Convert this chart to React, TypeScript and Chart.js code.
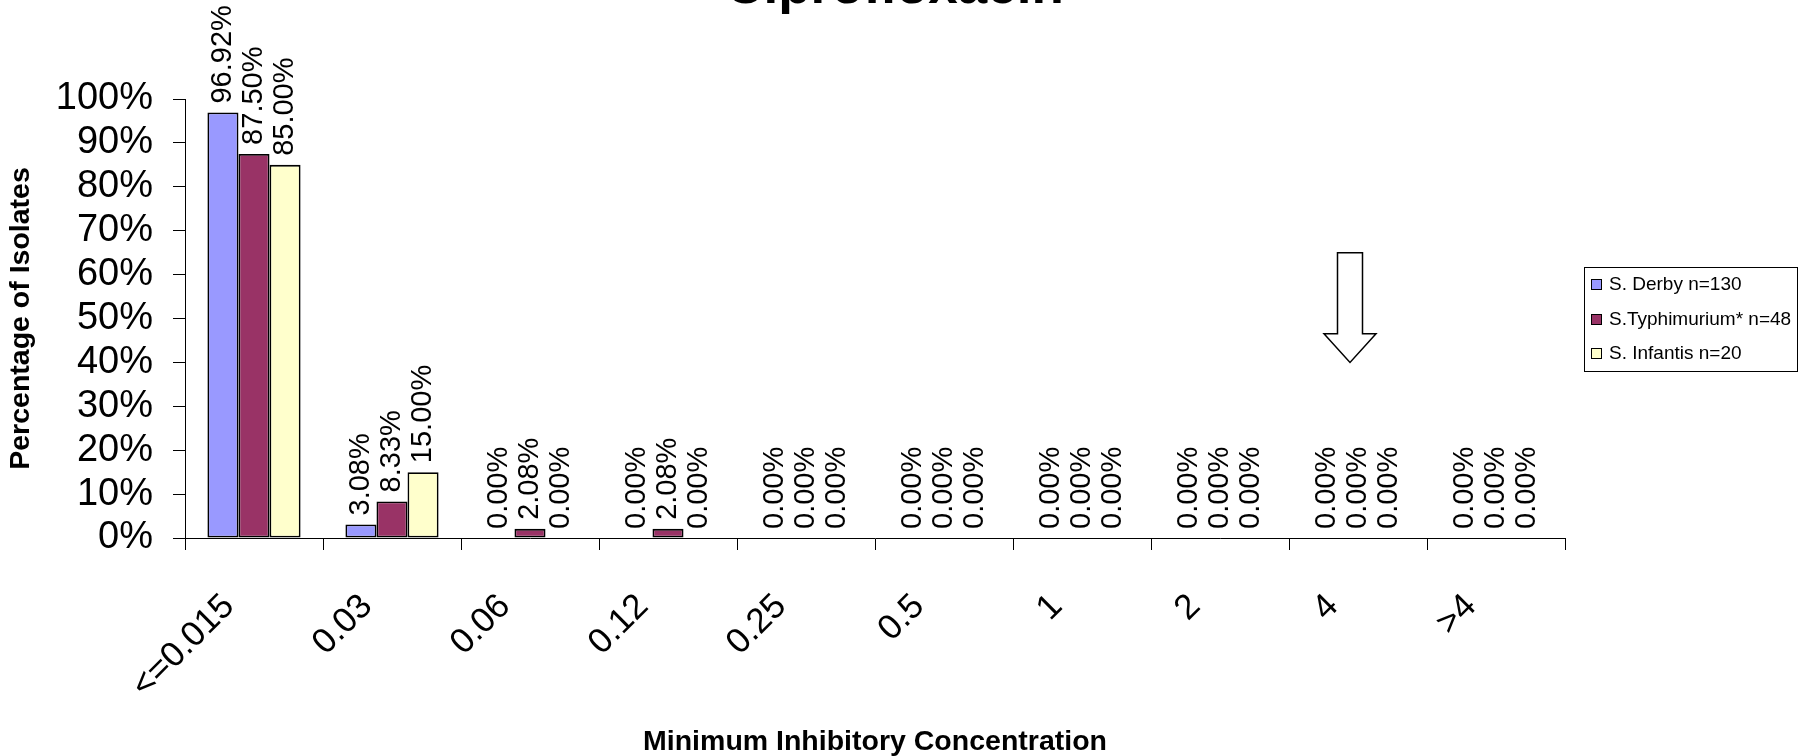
import React, { useEffect, useRef } from 'react';
import { Chart, registerables } from 'chart.js';

Chart.register(...registerables);

const FONT = "Arial, 'Liberation Sans', Helvetica, sans-serif";

const TITLE = 'Ciprofloxacin';
const X_TITLE = 'Minimum Inhibitory Concentration';
const Y_TITLE = 'Percentage of Isolates';

const CATEGORIES = ['<=0.015', '0.03', '0.06', '0.12', '0.25', '0.5', '1', '2', '4', '>4'];
const SERIES_LABELS = ['S. Derby n=130', 'S.Typhimurium* n=48', 'S. Infantis n=20'];
const DERBY = [96.92, 3.08, 0, 0, 0, 0, 0, 0, 0, 0];
const TYPHIMURIUM = [87.5, 8.33, 2.08, 2.08, 0, 0, 0, 0, 0, 0];
const INFANTIS = [85.0, 15.0, 0, 0, 0, 0, 0, 0, 0, 0];
const SERIES_COLORS = ['#9999FF', '#993366', '#FFFFCC'];

const Y_MIN = 0;
const Y_MAX = 100;
const Y_STEP = 10;

// breakpoint arrow (category + percentage values)
const ARROW_CATEGORY = '4';
const ARROW_TOP = 65;
const ARROW_NECK = 46.5;
const ARROW_TIP = 40;

const titlePlugin = {
  id: 'clippedTitle',
  afterDraw(chart: any) {
    const { ctx } = chart;
    ctx.save();
    ctx.font = `bold 53px ${FONT}`;
    ctx.fillStyle = '#000';
    ctx.textAlign = 'center';
    ctx.textBaseline = 'alphabetic';
    ctx.fillText(TITLE, chart.width / 2 - 8, 3);
    ctx.restore();
  },
};

const valueLabels = {
  id: 'valueLabels',
  afterDatasetsDraw(chart: any) {
    const { ctx } = chart;
    ctx.save();
    ctx.font = `29px ${FONT}`;
    ctx.fillStyle = '#000';
    chart.data.datasets.forEach((ds: any, i: number) => {
      const meta = chart.getDatasetMeta(i);
      meta.data.forEach((bar: any, j: number) => {
        const v = ds.data[j] as number;
        ctx.save();
        ctx.translate(bar.x, bar.y - 9);
        ctx.rotate(-Math.PI / 2);
        ctx.textAlign = 'left';
        ctx.textBaseline = 'middle';
        ctx.fillText(v.toFixed(2) + '%', 0, 0);
        ctx.restore();
      });
    });
    ctx.restore();
  },
};

const arrowPlugin = {
  id: 'arrow',
  afterDatasetsDraw(chart: any) {
    const { ctx } = chart;
    const xs = chart.scales.x;
    const ys = chart.scales.y;
    const idx = CATEGORIES.indexOf(ARROW_CATEGORY);
    const cx = xs.getPixelForValue(idx) - 8;
    const yTop = ys.getPixelForValue(ARROW_TOP);
    const yNeck = ys.getPixelForValue(ARROW_NECK);
    const yTip = ys.getPixelForValue(ARROW_TIP);
    const hs = 12.5;
    const hh = 26;
    ctx.save();
    ctx.beginPath();
    ctx.moveTo(cx - hs, yTop);
    ctx.lineTo(cx + hs, yTop);
    ctx.lineTo(cx + hs, yNeck);
    ctx.lineTo(cx + hh, yNeck);
    ctx.lineTo(cx, yTip);
    ctx.lineTo(cx - hh, yNeck);
    ctx.lineTo(cx - hs, yNeck);
    ctx.closePath();
    ctx.fillStyle = '#fff';
    ctx.fill();
    ctx.strokeStyle = '#000';
    ctx.lineWidth = 1.5;
    ctx.stroke();
    ctx.restore();
  },
};

const legendBox = {
  id: 'legendBox',
  afterDraw(chart: any) {
    const { ctx, chartArea } = chart;
    ctx.save();
    ctx.font = `19px ${FONT}`;
    const widths = SERIES_LABELS.map((l) => ctx.measureText(l).width);
    const left = Math.round(chartArea.right + 19);
    const rowH = 34.5;
    const cy = (chartArea.top + chartArea.bottom) / 2;
    const h = Math.round(rowH * 3);
    const top = Math.round(cy - h / 2);
    const w = Math.round(25 + Math.max(...widths) + 6);
    ctx.fillStyle = '#fff';
    ctx.fillRect(left, top, w, h);
    ctx.strokeStyle = '#000';
    ctx.lineWidth = 1;
    ctx.strokeRect(left + 0.5, top + 0.5, w, h);
    SERIES_LABELS.forEach((l, i) => {
      const y = Math.round(top + rowH * (i + 0.5));
      ctx.fillStyle = SERIES_COLORS[i];
      ctx.fillRect(left + 7, y - 5, 11, 11);
      ctx.strokeStyle = '#000';
      ctx.strokeRect(left + 7.5, y - 4.5, 10, 10);
      ctx.fillStyle = '#000';
      ctx.textAlign = 'left';
      ctx.textBaseline = 'middle';
      ctx.fillText(l, left + 25, y + 1);
    });
    ctx.restore();
  },
};

export default function App() {
  const ref = useRef<HTMLCanvasElement>(null);

  useEffect(() => {
    const prevMargin = document.body.style.margin;
    document.body.style.margin = '0';
    Chart.defaults.font.family = FONT;
    Chart.defaults.color = '#000';

    const series = [DERBY, TYPHIMURIUM, INFANTIS];
    const chart = new Chart(ref.current as HTMLCanvasElement, {
      type: 'bar',
      data: {
        labels: CATEGORIES,
        datasets: series.map((d, i) => ({
          label: SERIES_LABELS[i],
          data: d,
          backgroundColor: SERIES_COLORS[i],
          borderColor: '#000',
          borderWidth: 1.8,
          borderSkipped: false,
          categoryPercentage: 0.675,
          barPercentage: 1.0,
        })),
      },
      options: {
        animation: false,
        responsive: true,
        maintainAspectRatio: false,
        layout: { padding: { top: 99, right: 240, bottom: 0, left: 0 } },
        plugins: {
          legend: { display: false },
          title: { display: false },
          tooltip: { enabled: false },
        },
        scales: {
          x: {
            grid: {
              offset: true,
              drawOnChartArea: false,
              drawTicks: true,
              tickLength: 12,
              color: '#000',
              lineWidth: 1,
            },
            border: { display: true, color: '#000', width: 1 },
            ticks: {
              font: { size: 35, family: FONT },
              color: '#000',
              maxRotation: 45,
              minRotation: 45,
              autoSkip: false,
              labelOffset: -25,
              padding: 36,
            },
            title: {
              display: true,
              text: X_TITLE,
              color: '#000',
              font: { size: 28.5, weight: 'bold', family: FONT, lineHeight: 1 },
              padding: { top: 0, bottom: 0 },
            },
            afterFit: (s: any) => {
              s.height = 218;
            },
          },
          y: {
            min: Y_MIN,
            max: Y_MAX,
            grid: {
              drawOnChartArea: false,
              drawTicks: true,
              tickLength: 12,
              color: '#000',
              lineWidth: 1,
            },
            border: { display: true, color: '#000', width: 1 },
            ticks: {
              stepSize: Y_STEP,
              autoSkip: false,
              font: { size: 38, family: FONT },
              color: '#000',
              padding: 20,
              callback: (v: any) => v + '%',
            },
            title: {
              display: true,
              text: Y_TITLE,
              color: '#000',
              font: { size: 28.5, weight: 'bold', family: FONT },
              padding: { top: 4, bottom: 0 },
            },
            afterFit: (s: any) => {
              s.width = 185;
            },
          },
        },
      },
      plugins: [valueLabels, arrowPlugin, legendBox, titlePlugin],
    } as any);

    return () => {
      chart.destroy();
      document.body.style.margin = prevMargin;
    };
  }, []);

  return (
    <div style={{ width: 1805, height: 756, position: 'relative', background: '#fff' }}>
      <canvas ref={ref} />
    </div>
  );
}
